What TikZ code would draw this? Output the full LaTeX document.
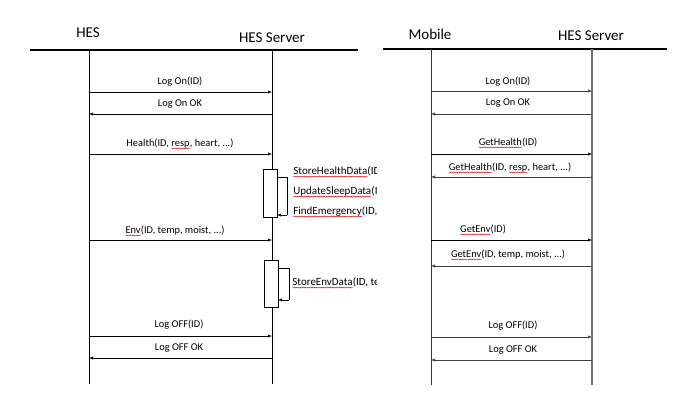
\documentclass[tikz,border=0pt]{standalone}
\usepackage{fontspec}
\setmainfont{Carlito}
\usetikzlibrary{arrows.meta,decorations.pathmorphing}
\newcommand\rsq[1]{\tikz[baseline=(w.base),x=1pt,y=1pt]{\node[inner sep=0pt,outer sep=0pt,anchor=base] (w) {#1};
  \draw[red!85!black, line width=0.35pt, decorate, decoration={snake,amplitude=0.45pt,segment length=1.8pt}] ([yshift=-1.8pt]w.base west) -- ([yshift=-1.8pt]w.base east);}}
\begin{document}
\begin{tikzpicture}[x=1pt,y=-1pt,
  msg/.style={-{Latex[length=4pt,width=3.2pt]}, line width=0.6pt},
  rmsg/.style={msg, draw=black!75},
  lbl/.style={font=\fontsize{10.4}{12}\selectfont, inner sep=0pt},
  sml/.style={font=\fontsize{11}{13}\selectfont, inner sep=0pt, anchor=west},
  hdr/.style={font=\fontsize{15}{18}\selectfont, inner sep=0pt},
  life/.style={line width=0.7pt},
  act/.style={draw, fill=white, line width=0.5pt},
  loopline/.style={line width=0.6pt}]
\useasboundingbox (0,0) rectangle (681,416);
% ---------------- left panel ----------------
\coordinate (LA) at (30,50); \coordinate (LB) at (358,50);
\draw[line width=1.3pt] (LA) -- (LB);
\node[hdr] (hes) at (88,33) {HES};
\node[hdr] (srv) at (272,38) {HES Server};
\coordinate (hT) at (89,50); \coordinate (hB) at (89,384);
\coordinate (sT) at (272,50); \coordinate (sB) at (272,384);
\draw[life] (hT) -- (hB);
\draw[life] (sT) -- (sB);
% messages
\foreach \n/\y in {1/92,2/114,3/154,4/240,5/336,6/358}{
  \coordinate (h\n) at (89,\y); \coordinate (s\n) at (272,\y);}
\draw[msg] (h1) -- (s1);
\node[lbl] (m1) at (180,82) {Log On(ID)};
\draw[msg] (s2) -- (h2);
\node[lbl] (m2) at (180,104) {Log On OK};
\draw[msg] (h3) -- (s3);
\node[lbl] (m3) at (180,144) {Health(ID, \rsq{resp}, heart, ...)};
\draw[msg] (h4) -- (s4);
\node[lbl] (m4) at (175,231) {\rsq{Env}(ID, temp, moist, ...)};
\draw[msg] (h5) -- (s5);
\node[lbl] (m5) at (179,325) {Log OFF(ID)};
\draw[msg] (s6) -- (h6);
\node[lbl] (m6) at (179,348) {Log OFF OK};
% activation 1
\draw[act] (263,169) rectangle (277,217);
\coordinate (a1o) at (277,177); \coordinate (a1r) at (287,177);
\coordinate (a1d) at (287,215); \coordinate (a1i) at (277,215);
\draw[loopline] (a1o) -- (a1r) -- (a1d);
\draw[msg] (a1d) -- (a1i);
\begin{scope}
\clip (280,160) rectangle (376,225);
\node[sml] (t1) at (293,172) {\rsq{StoreHealthData}(ID, resp, heart)};
\node[sml] (t2) at (293,192) {\rsq{UpdateSleepData}(ID, resp)};
\node[sml] (t3) at (293,212) {\rsq{FindEmergency}(ID, heart)};
\end{scope}
% activation 2
\draw[act] (264,260) rectangle (278,307);
\coordinate (a2o) at (278,268); \coordinate (a2r) at (289,268);
\coordinate (a2d) at (289,300); \coordinate (a2i) at (278,300);
\draw[loopline] (a2o) -- (a2r) -- (a2d);
\draw[msg] (a2d) -- (a2i);
\begin{scope}
\clip (280,270) rectangle (376,295);
\node[sml] (t4) at (292,283) {\rsq{StoreEnvData}(ID, temp, moist)};
\end{scope}
% ---------------- right panel ----------------
\coordinate (RA) at (383,49); \coordinate (RB) at (667,49);
\draw[line width=1.3pt] (RA) -- (RB);
\node[hdr] (mob) at (430,34) {Mobile};
\node[hdr] (srv2) at (591,36) {HES Server};
\coordinate (mT) at (431,49); \coordinate (mB) at (431,385);
\coordinate (rT) at (592,49); \coordinate (rB) at (592,385);
\draw[life, black!80] (mT) -- (mB);
\draw[line width=1.2pt, black!55] (rT) -- (rB);
\foreach \n/\y in {1/91,2/114,3/154,4/177,5/240,6/266,7/337,8/360}{
  \coordinate (mm\n) at (431,\y); \coordinate (rr\n) at (592,\y);}
\draw[rmsg] (mm1) -- (rr1);
\node[lbl] (n1) at (508,82) {Log On(ID)};
\draw[rmsg] (rr2) -- (mm2);
\node[lbl] (n2) at (508,103) {Log On OK};
\draw[msg] (mm3) -- (rr3);
\node[lbl] (n3) at (508,143) {\rsq{GetHealth}(ID)};
\draw[rmsg] (rr4) -- (mm4);
\node[lbl] (n4) at (510,168) {\rsq{GetHealth}(ID, \rsq{resp}, heart, ...)};
\draw[msg] (mm5) -- (rr5);
\node[lbl] (n5) at (483,230) {\rsq{GetEnv}(ID)};
\draw[rmsg] (rr6) -- (mm6);
\node[lbl] (n6) at (508,255) {\rsq{GetEnv}(ID, temp, moist, ...)};
\draw[rmsg] (mm7) -- (rr7);
\node[lbl] (n7) at (513,326) {Log OFF(ID)};
\draw[rmsg] (rr8) -- (mm8);
\node[lbl] (n8) at (513,350) {Log OFF OK};
\end{tikzpicture}
\end{document}
